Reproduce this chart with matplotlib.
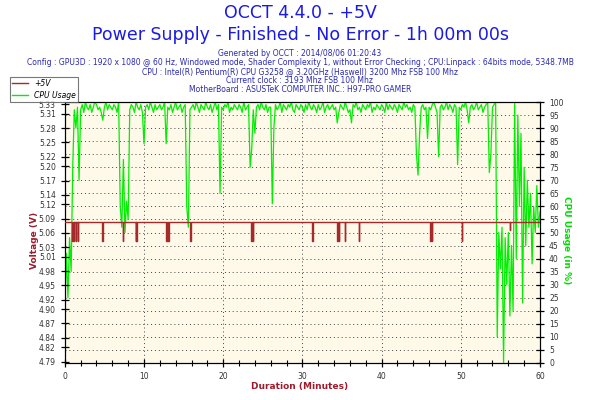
"""OCCT power supply test chart: +5V rail and CPU usage over one hour."""

import numpy as np
import matplotlib
matplotlib.use("Agg")
import matplotlib.pyplot as plt
from matplotlib.lines import Line2D

# --- data -----------------------------------------------------------------
title_main = "OCCT 4.4.0 - +5V"
title_sub = "Power Supply - Finished - No Error - 1h 00m 00s"
info_lines = [
    "Generated by OCCT : 2014/08/06 01:20:43",
    "Config : GPU3D : 1920 x 1080 @ 60 Hz, Windowed mode, Shader Complexity 1, "
    "without Error Checking ; CPU:Linpack : 64bits mode, 5348.7MB",
    "CPU : Intel(R) Pentium(R) CPU G3258 @ 3.20GHz (Haswell) 3200 Mhz FSB 100 Mhz",
    "Current clock : 3193 Mhz FSB 100 Mhz",
    "MotherBoard : ASUSTeK COMPUTER INC.: H97-PRO GAMER",
]

# +5V rail: steady level with short dips
volt_base = 5.082
volt_dip_times = [0.97, 1.14, 1.39, 1.68, 4.76, 7.36, 8.96, 9.05, 12.84, 13.09,
                  15.9, 23.57, 23.78, 31.27, 34.43, 34.64, 35.35, 37.12,
                  46.17, 46.38, 50.17, 56.2]
volt_dip_values = [5.043, 5.043, 5.043, 5.043, 5.043, 5.043, 5.043, 5.043,
                   5.043, 5.043, 5.043, 5.043, 5.043, 5.043, 5.043, 5.043,
                   5.043, 5.043, 5.043, 5.043, 5.043, 5.066]

# CPU usage (%), one sample every 0.2 min
cpu_step = 0.2
cpu_usage = [
    20, 42, 25, 48, 35, 75, 97, 90, 98, 70,
    97, 99, 96, 100, 98, 97, 99, 96, 98, 100,
    99, 97, 98, 96, 93, 98, 100, 97, 99, 98,
    97, 99, 98, 96, 100, 60, 52, 78, 50, 62,
    55, 97, 99, 98, 96, 100, 98, 97, 99, 96,
    84, 98, 99, 97, 100, 98, 96, 99, 97, 98,
    99, 97, 98, 100, 84, 98, 97, 99, 96, 98,
    100, 97, 98, 99, 96, 98, 99, 60, 52, 97,
    98, 99, 97, 100, 98, 96, 99, 98, 97, 100,
    98, 97, 99, 96, 98, 100, 97, 99, 65, 98,
    97, 99, 98, 100, 96, 98, 97, 99, 98, 97,
    99, 98, 96, 100, 97, 98, 99, 75, 82, 97,
    88, 98, 99, 97, 100, 98, 97, 99, 96, 98,
    98, 61, 90, 99, 97, 98, 100, 96, 99, 98,
    97, 99, 98, 100, 97, 96, 99, 98, 97, 99,
    98, 96, 99, 97, 100, 98, 97, 99, 98, 96,
    99, 97, 98, 100, 96, 98, 99, 97, 98, 99,
    97, 98, 92, 96, 99, 98, 97, 100, 98, 96,
    97, 92, 99, 98, 100, 97, 98, 96, 99, 98,
    97, 99, 98, 100, 96, 98, 97, 99, 98, 97,
    99, 98, 96, 100, 97, 99, 98, 97, 99, 98,
    96, 99, 98, 97, 100, 98, 99, 97, 98, 96,
    99, 98, 80, 72, 88, 98, 99, 97, 98, 86,
    98, 97, 99, 100, 98, 96, 79, 98, 99, 97,
    98, 100, 97, 99, 98, 96, 99, 98, 76, 98,
    97, 99, 98, 100, 97, 92, 98, 99, 97, 98,
    100, 97, 98, 99, 96, 98, 99, 100, 73, 80,
    98, 99, 100, 10, 50, 36, 52, 0, 48, 30,
    50, 18, 45, 20, 100, 40, 95, 60, 88, 23,
    75, 45, 70, 52, 65, 38, 60, 50, 68, 52,
    58,
]

volt_ticks = [4.79, 4.82, 4.84, 4.87, 4.90, 4.92, 4.95, 4.98, 5.01, 5.03, 5.06,
              5.09, 5.12, 5.14, 5.17, 5.20, 5.22, 5.25, 5.28, 5.31, 5.33]
cpu_ticks = list(range(0, 101, 5))
minute_ticks = [0, 10, 20, 30, 40, 50, 60]

# --- build series ---------------------------------------------------------
cpu_t = np.arange(len(cpu_usage)) * cpu_step
volt_t = [0.0]
volt_v = [volt_base]
for t, v in zip(volt_dip_times, volt_dip_values):
    volt_t += [t - 0.03, t - 0.03, t + 0.03, t + 0.03]
    volt_v += [volt_base, v, v, volt_base]
volt_t.append(60.0)
volt_v.append(volt_base)

# --- figure ---------------------------------------------------------------
fig = plt.figure(figsize=(6, 4), dpi=100)
fig.patch.set_facecolor("white")

ax = fig.add_axes([0.108, 0.0925, 0.792, 0.6525])  # CPU axis (ticks right)
ax.set_facecolor("#fef9e9")
ax2 = ax.twinx()                                    # voltage axis (ticks left)
ax.yaxis.tick_right()
ax2.yaxis.tick_left()

for a in (ax, ax2):
    for s in a.spines.values():
        s.set_linewidth(0.8)
        s.set_color("black")

ax.plot(cpu_t, cpu_usage, color="#00ee00", lw=0.9, zorder=3)
ax.set_xlim(0, 60)
ax.set_ylim(0, 100)
ax.set_yticks(cpu_ticks)
ax.set_yticklabels([str(c) for c in cpu_ticks])
ax.set_xticks(minute_ticks)
ax.set_xticks(np.arange(0, 61, 2), minor=True)
ax.tick_params(axis="both", which="major", direction="inout", length=6,
               width=0.9, labelsize=5.5, labelcolor="#333333")
ax.tick_params(axis="x", which="minor", direction="inout", length=4, width=0.8)

# grid: dotted horizontals every 5 %, verticals every 10 min
for c in cpu_ticks[1:-1]:
    ax.axhline(c, color="#444444", lw=0.7, ls=(0, (1, 3)), zorder=1)
for m in minute_ticks[1:-1]:
    ax.axvline(m, color="#444444", lw=0.7, ls=(0, (1, 3)), zorder=1)

ax2.plot(volt_t, volt_v, color="#a52a2a", lw=1.0, zorder=4)
ax2.set_ylim(4.787, 5.335)
ax2.set_yticks(volt_ticks)
ax2.set_yticklabels([f"{v:.2f}" for v in volt_ticks])
ax2.tick_params(axis="y", direction="inout", length=6, width=0.9,
                labelsize=5.5, labelcolor="#333333")

# --- texts ----------------------------------------------------------------
fig.text(0.5, 0.967, title_main, ha="center", va="center",
         color="#1a1ae6", fontsize=12.5)
fig.text(0.5, 0.912, title_sub, ha="center", va="center",
         color="#1a1ae6", fontsize=12.5)
for i, line in enumerate(info_lines):
    fig.text(0.5, 0.867 - i * 0.0225, line, ha="center", va="center",
             color="#2a2ab0", fontsize=5.5)

fig.text(0.058, 0.4, "Voltage (V)", rotation=90, ha="center", va="center",
         color="#9c1c2c", fontsize=6.5, fontweight="bold")
fig.text(0.945, 0.4, "CPU Usage (in %)", rotation=270, ha="center",
         va="center", color="#00dd00", fontsize=6.5, fontweight="bold")
fig.text(0.5, 0.035, "Duration (Minutes)", ha="center", va="center",
         color="#9c1c2c", fontsize=6.5, fontweight="bold")

handles = [Line2D([], [], color="#a52a2a", lw=1.0),
           Line2D([], [], color="#00ee00", lw=1.0)]
leg = fig.legend(handles, ["+5V", "CPU Usage"], loc="upper left",
                 bbox_to_anchor=(0.017, 0.808), fontsize=5.5, frameon=True,
                 fancybox=False, edgecolor="#555555", borderpad=0.3,
                 handlelength=2.0, labelspacing=0.4, borderaxespad=0)
leg.get_frame().set_linewidth(0.8)
for txt in leg.get_texts():
    txt.set_fontstyle("italic")

fig.savefig("out.png", dpi=100)
